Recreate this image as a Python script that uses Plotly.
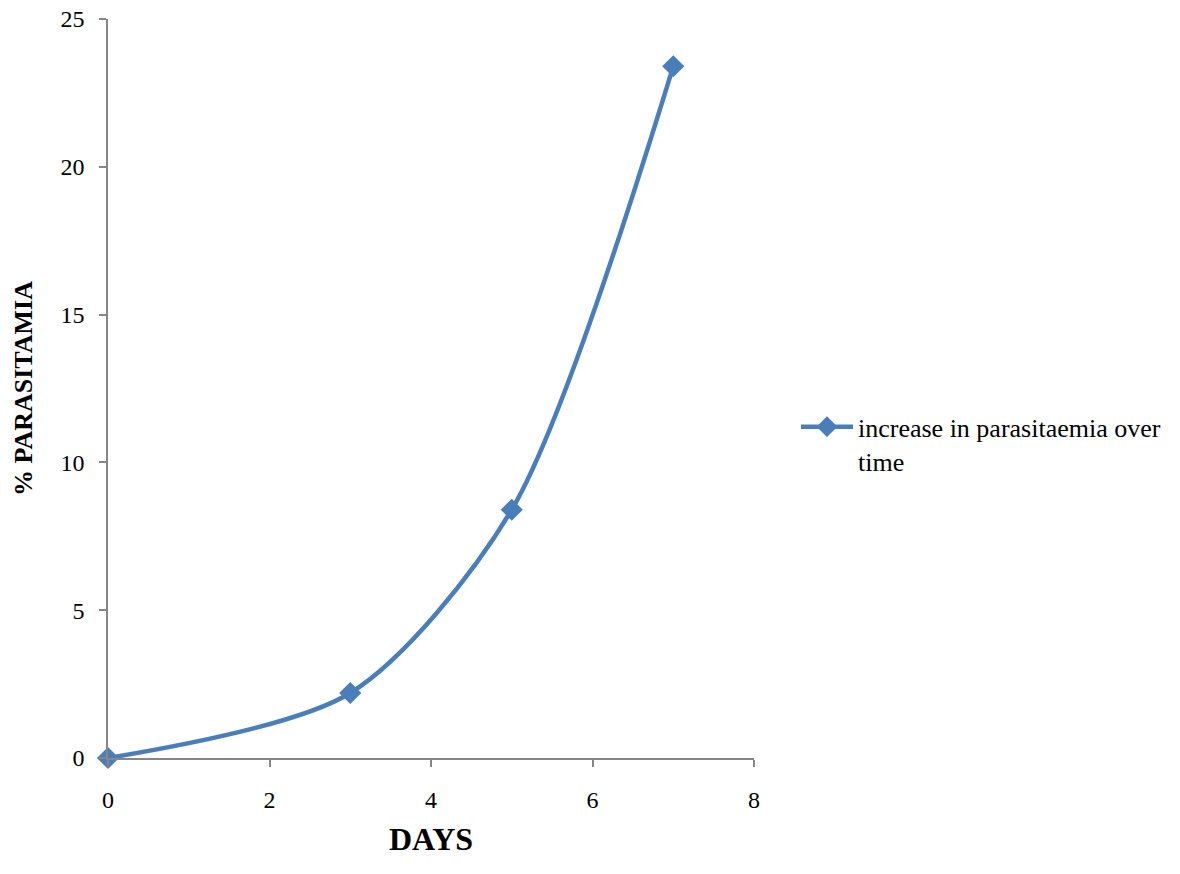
import plotly.graph_objects as go

# Parasitaemia measured on each sampling day
days = [0, 3, 5, 7]
parasitaemia_pct = [0, 2.2, 8.4, 23.4]
series_name = "increase in parasitaemia over<br>time"

FONT = "Liberation Serif, Times New Roman, serif"
AXIS_GREY = "#868686"
LINE_BLUE = "#4A7EBB"

fig = go.Figure()
fig.add_trace(go.Scatter(
    x=days,
    y=parasitaemia_pct,
    mode="lines+markers",
    name=series_name,
    line=dict(color=LINE_BLUE, width=4.5, shape="spline", smoothing=0.8),
    marker=dict(symbol="diamond", size=17, color=LINE_BLUE),
    cliponaxis=False,
    showlegend=True,
))

axis_common = dict(
    showgrid=False,
    zeroline=False,
    showline=True,
    linecolor=AXIS_GREY,
    linewidth=1.5,
    ticks="outside",
    ticklen=7,
    tickwidth=1.5,
    tickcolor=AXIS_GREY,
    tickfont=dict(family=FONT, size=24, color="black"),
    automargin=False,
)

fig.update_xaxes(
    range=[0, 8], dtick=2, tick0=0,
    ticklabelstandoff=12,
    title=dict(text="<b>DAYS</b>", font=dict(family=FONT, size=32, color="black"), standoff=16),
    **axis_common,
)
fig.update_yaxes(
    range=[0, 25], dtick=5, tick0=0,
    ticklabelstandoff=10,
    title=dict(text="<b>% PARASITAMIA</b>", font=dict(family=FONT, size=26, color="black"), standoff=20),
    **axis_common,
)

fig.update_layout(
    width=1180,
    height=874,
    margin=dict(l=108, r=426, t=19, b=116),
    paper_bgcolor="white",
    plot_bgcolor="white",
    font=dict(family=FONT, color="black"),
    legend=dict(
        x=1.065, y=0.48, xanchor="left", yanchor="top",
        font=dict(family=FONT, size=26, color="black"),
        itemwidth=52,
        valign="top",
        bgcolor="rgba(0,0,0,0)",
    ),
)

fig.write_html("out.html")
